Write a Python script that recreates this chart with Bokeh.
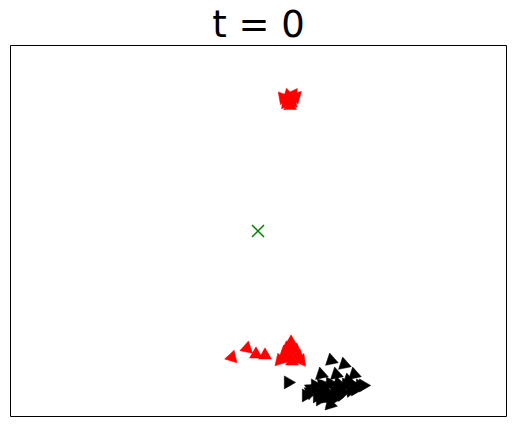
from bokeh.plotting import figure
from bokeh.models import Range1d
from bokeh.embed import file_html
from bokeh.resources import INLINE

# world coordinates (x: 0..495, y: 0..370)
red_x = [272, 277, 282, 285, 275, 281, 279,
         221, 236, 245, 254,
         279, 274, 283, 272, 287, 277, 290, 269, 281, 276, 285, 280]
red_y = [318, 320, 321, 319, 313, 314, 310,
         59, 68, 62, 61,
         70, 64, 65, 58, 60, 59, 56, 56, 55, 68, 66, 74]
red_a = [0.7, 0.2, -0.6, -0.8, 0.4, -0.3, 0.0,
         -0.3, -0.2, 0.0, 0.0,
         0.0, 0.2, -0.2, 0.1, -0.3, 0.0, -0.4, 0.3, 0.0, 0.1, -0.1, 0.0]

blk_x = [277, 320, 333, 310, 325, 343,
         304, 311, 319, 327, 335, 343, 349, 352,
         295, 299, 307, 315, 323, 331, 339, 309, 317, 325, 319, 312, 329, 337,
         300, 314, 322, 306, 330, 344]
blk_y = [34, 56, 52, 42, 42, 42,
         31, 32, 33, 33, 32, 31, 31, 31,
         21, 24, 24, 25, 25, 25, 26, 17, 18, 19, 12, 29, 29, 36,
         28, 20, 21, 20, 22, 27]
blk_a = [-1.57, 2.3, 2.3, 2.3, 2.3, 2.3,
         -1.57, -1.4, -1.57, -1.8, -1.57, -1.3, -1.57, -1.57,
         -1.57, -1.2, -1.57, -1.9, -1.57, -1.7, -1.4, -1.57, -2.0, -1.57, -1.8, 2.3, -1.57, 2.3,
         -1.0, 2.6, -2.2, -1.57, 2.8, -1.57]

target_x = [247]
target_y = [185]

p = figure(width=515, height=426, output_backend="svg", toolbar_location=None,
           x_range=Range1d(0, 495), y_range=Range1d(0, 370),
           title="t = 0", min_border_left=10, min_border_right=9,
           min_border_bottom=10, min_border_top=0)
p.title.align = "center"
p.title.text_font = "DejaVu Sans"
p.title.text_font_size = "37px"
p.title.text_font_style = "normal"
p.title.text_color = "black"
p.title.standoff = 0
p.xaxis.visible = False
p.yaxis.visible = False
p.xgrid.visible = False
p.ygrid.visible = False
p.outline_line_color = "black"
p.outline_line_width = 1
p.outline_line_alpha = 1
p.background_fill_color = "white"
p.border_fill_color = "white"

p.scatter(red_x, red_y, marker="triangle", size=13, angle=red_a,
          fill_color="red", line_color="red", line_width=0.5)
p.scatter(blk_x, blk_y, marker="triangle", size=13, angle=blk_a,
          fill_color="black", line_color="black", line_width=0.5)
p.scatter(target_x, target_y, marker="x", size=17, line_color="green", line_width=1.5)

open("out.html", "w").write(file_html(p, INLINE))
